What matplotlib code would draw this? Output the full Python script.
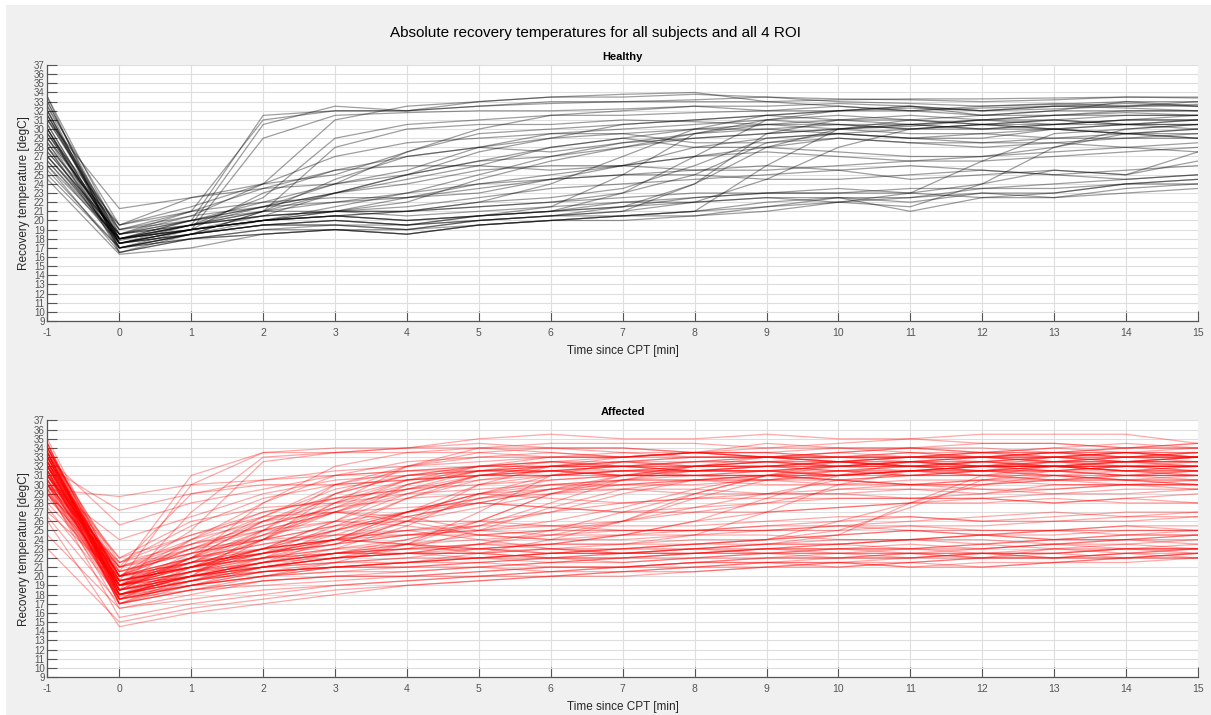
import matplotlib.pyplot as plt
from matplotlib.patches import Rectangle

# time points [min] (-1 = baseline before CPT)
t = [-1, 0, 1, 2, 3, 4, 5, 6, 7, 8, 9, 10, 11, 12, 13, 14, 15]

# healthy subjects, one row per subject/ROI
healthy = [
    [33, 18, 20, 31.5, 32, 32, 32.5, 33, 33, 33, 33, 33.2, 33.3, 33.3, 33.4, 33.5, 33.5],
    [32, 17.5, 19.5, 30.5, 32.5, 32, 32.5, 32.8, 33, 33.2, 33.5, 33.3, 33.2, 33, 33.2, 33.5, 33.4],
    [31, 19, 21, 31, 32, 32, 33, 33.5, 33.5, 33.8, 33.5, 33, 32.8, 32.5, 32.7, 33, 33],
    [30, 17, 19, 29, 31.5, 31.8, 32, 32, 32.2, 32.5, 32, 32.5, 32, 32.3, 32.5, 32.3, 32],
    [29, 18.5, 20.5, 24, 31, 32.5, 33, 33.5, 33.8, 34, 33, 32.5, 32, 32.5, 32.8, 32.5, 32.7],
    [28, 19.5, 22.5, 24, 25, 27.5, 30, 31.5, 32, 32.5, 32.5, 32.8, 32.5, 32, 32.5, 32.8, 32.5],
    [27, 17.8, 19.5, 22.5, 29, 30.5, 31, 31.5, 31.5, 31.8, 32, 32, 32.3, 32, 32.2, 32.5, 32.5],
    [33.5, 16.5, 18.5, 21, 28, 30, 30.5, 30.5, 31, 30.8, 30.5, 30, 30.3, 31, 31.5, 31.8, 31.5],
    [31.5, 18, 19.5, 21.5, 24, 27.5, 29.5, 30, 30.5, 31, 31.5, 31, 30.5, 30, 30.5, 31, 31],
    [30.5, 17.5, 19, 20.5, 23, 25, 27.5, 29, 30.5, 31, 31.5, 32, 32.5, 31.5, 32, 33, 32.5],
    [29.5, 18, 19.5, 21, 24.5, 27, 28, 27.5, 28.5, 29.5, 30, 30.5, 30, 30.5, 31, 30.5, 30.5],
    [26.5, 17.5, 19, 23, 25.5, 27, 28, 29, 29.5, 30, 30, 29.5, 29, 29.5, 30, 29.5, 29],
    [28.5, 18, 20, 22, 24, 25.5, 28, 29.5, 29.5, 28.5, 28.5, 29, 28.5, 28.5, 29, 29, 29.5],
    [32.5, 17, 18.5, 20, 21.5, 23, 25, 27, 28.5, 29, 29.5, 30, 30.5, 31, 31.5, 31.5, 31.5],
    [27.5, 18.5, 21, 23.5, 25.5, 26, 26, 25.5, 26, 27, 28, 29, 28.5, 28, 28.5, 28, 27.5],
    [25.5, 17, 18.5, 21, 23, 24, 25.5, 26, 26, 25.5, 25.5, 26, 26.5, 27, 27.5, 28, 28.5],
    [31, 18.5, 20, 21.5, 23, 24.5, 26, 28, 29, 28, 28, 27.5, 27, 27, 28, 29.5, 30],
    [30, 17.5, 19, 20, 21, 22, 24.5, 26.5, 28, 29.5, 30.5, 31, 31, 30.5, 31, 31.5, 31.5],
    [29, 19, 20.5, 21.5, 22, 22.5, 23, 24.5, 26, 27, 27.5, 27, 26.5, 26.5, 27, 27.5, 28],
    [33, 17.5, 19, 20, 20.5, 21, 22, 24, 27, 30, 31.5, 32, 32, 31.5, 32, 32, 32],
    [32, 18, 19, 20, 20.5, 20, 20.5, 21.5, 25, 29.5, 31, 31.5, 31, 30.5, 30.5, 31, 31],
    [28, 17, 18.5, 19.5, 20, 19.5, 20, 20.5, 21, 24, 29.5, 31, 31.5, 31, 30.5, 31, 31.5],
    [30.5, 17.5, 18.5, 19.5, 19.5, 19.5, 20, 20.5, 20.5, 21, 26, 30, 31, 31.5, 31.5, 32, 32],
    [27, 18, 19, 20, 20.5, 20, 20.5, 21, 21.5, 22, 24.5, 28, 30, 30.5, 30, 29.5, 30],
    [26, 16.5, 18, 19, 19, 19, 19.5, 20, 20.5, 20.5, 21, 22, 23, 26.5, 29.5, 30, 30.5],
    [31.5, 19, 20, 21, 21, 20.5, 21, 21.5, 22, 22, 22.5, 22, 21.5, 24, 28, 30, 30.5],
    [29.5, 18, 19, 20, 20.5, 20, 20.5, 21, 22, 22.5, 23, 23, 23.5, 23.5, 24, 24.5, 25],
    [28, 17.5, 18.5, 19.5, 19.5, 19, 20, 20.5, 21, 22, 22.5, 22.5, 22.5, 23.5, 23.5, 24, 24.5],
    [25, 17, 18, 18.5, 19, 18.5, 19.5, 20, 20.5, 21, 22, 22.5, 22, 23, 23, 24, 24.5],
    [30, 16.5, 18, 18.5, 19, 18.5, 19.5, 20, 20, 20.5, 21.5, 22.5, 21, 22.5, 23, 24, 24],
    [27.5, 18.5, 19.5, 20.5, 21, 21.5, 22.5, 23.5, 24, 24.5, 25, 25.5, 24.5, 25, 25.5, 25, 26.5],
    [32.5, 19.5, 21, 22, 22.5, 22.5, 23.5, 24.5, 25, 25, 24.5, 24.5, 25, 25.5, 25, 24.5, 25],
    [26.5, 18, 19.5, 20.5, 21, 21, 22, 22.5, 23.5, 26, 29, 29.5, 29, 29, 30, 29.5, 29],
    [31, 21.3, 22.5, 23.5, 24, 25, 26.5, 27, 28, 29, 29.5, 30, 30.5, 31, 31, 30.5, 31],
    [29, 17, 18, 19, 19.5, 19, 20, 20.5, 21.5, 24, 28, 30, 29.5, 29.5, 29, 29.5, 29.5],
    [33.5, 18.5, 19.5, 20.5, 21, 21, 21.5, 22, 23, 25, 28.5, 29.5, 29, 28.5, 28.5, 29, 29],
    [24.5, 16.3, 17, 18.5, 19, 18.5, 19.5, 20, 20.5, 21, 21.5, 22, 22.5, 23, 22.5, 23, 23.5],
    [28.5, 17.5, 18.5, 19.5, 20, 19.5, 20.5, 21, 21.5, 22.5, 23, 23, 23, 22.5, 22.5, 23.5, 24],
    [30, 18, 19.5, 21, 22, 23, 24, 25, 26, 28, 29, 29.5, 30, 30.5, 30, 30.5, 30.5],
    [32, 17, 18.5, 19.5, 20, 19.5, 20.5, 21, 23, 27, 31, 32, 32.5, 32, 32.5, 32.5, 33],
    [27, 18.5, 20, 21.5, 23, 25, 26.5, 28, 29, 30, 30.5, 30.5, 30, 30, 30.5, 30.5, 30],
    [29.5, 19.5, 21.5, 24, 27, 28.5, 29, 29.5, 30, 30.5, 31, 30.5, 30.5, 30, 30, 30.5, 31],
    [26, 18, 19, 20, 20.5, 21, 21.5, 22, 22.5, 23, 23, 23.5, 23, 24, 25.5, 25, 27.5],
    [31.5, 17.5, 19, 20, 21, 22.5, 24, 24.5, 25, 25.5, 26, 25.5, 26, 25.5, 25, 25.5, 26],
]

# affected subjects
affected = [
    [33.5, 19.5, 30, 33.5, 34, 34, 34.5, 34, 34, 33.5, 34, 34, 33.5, 33.5, 34, 33.5, 33],
    [32.5, 18.5, 27, 33, 33.5, 34, 34, 33.5, 33, 33.5, 33, 33.5, 34, 34, 33.5, 34, 34.5],
    [34, 20, 25, 32.5, 33.5, 34, 35, 35.5, 35, 35, 35.5, 35, 35, 35.5, 35.5, 35.5, 34.5],
    [31, 21, 29, 30.5, 31, 31.5, 32, 32.5, 32, 32.5, 33, 32.5, 32, 32.5, 33, 33, 32.5],
    [29.5, 28.7, 30, 30.5, 31.5, 32, 32.5, 33, 33.5, 33, 33, 33.5, 33, 33, 33.5, 33.5, 33],
    [32, 27.2, 29, 30, 30, 30.5, 31, 31.5, 31.5, 32, 32.5, 32, 32.5, 33, 33, 32.5, 32],
    [33, 25.6, 28, 29.5, 31, 31.5, 32, 32, 32.5, 32, 32, 32.5, 32, 31.5, 32, 32.5, 32],
    [30, 24, 26.5, 29, 30.5, 31, 31.5, 32.5, 33, 33.5, 33, 32.5, 32.5, 33, 33.5, 33, 33.5],
    [34.5, 19, 22, 28, 32, 33.5, 34, 34, 33.5, 33.5, 33, 33.5, 34, 33.5, 33.5, 34, 34],
    [33.5, 18, 20, 25, 30, 32, 33, 33.5, 33, 33.5, 33.5, 33, 33, 33, 33.5, 33, 33],
    [32, 19.5, 21.5, 24, 29, 31, 32, 32, 31.5, 32, 32.5, 32.5, 32, 32, 32.5, 32.5, 33],
    [31.5, 17.5, 20.5, 23, 26, 30, 32, 32.5, 32.5, 32.5, 33, 33, 32.5, 32.5, 32, 32.5, 32.5],
    [33, 18.5, 22, 26, 29, 31, 31.5, 31.5, 32, 31.5, 31.5, 32, 32.5, 32, 32, 31.5, 31.5],
    [30.5, 20.5, 23, 25, 27, 29, 31, 32, 32.5, 33, 33, 32.5, 33, 33.5, 33, 33, 33.5],
    [32.5, 19, 21, 23, 25, 27, 29, 30.5, 31, 31, 31.5, 31.5, 31, 31.5, 32, 32, 31.5],
    [29, 21.5, 24.5, 27, 28.5, 29.5, 30.5, 31, 31.5, 31.5, 31.5, 31, 31.5, 32, 32, 31.5, 31],
    [31, 22, 26, 27.5, 28, 30, 31.5, 32, 32, 31.5, 32, 32.5, 32, 31.5, 32.5, 33, 33.5],
    [34, 18, 21, 24, 27.5, 30.5, 32, 33, 33, 33.5, 33, 33, 33.5, 33, 33, 33.5, 33.5],
    [33, 20, 23.5, 26.5, 30, 31.5, 31.5, 31.5, 31, 31.5, 32, 32, 31.5, 31.5, 31.5, 32, 32],
    [32, 17, 19.5, 22, 25, 28.5, 31, 31.5, 31, 31, 31, 31.5, 31.5, 31, 30.5, 31, 31.5],
    [30, 19.5, 21, 22.5, 23.5, 26, 30, 31, 31.5, 31.5, 32, 31.5, 31, 31.5, 32, 32, 31.5],
    [33.5, 18.5, 20, 21.5, 23, 25.5, 29, 31, 31.5, 31, 30.5, 31, 31.5, 31, 31, 30.5, 30.5],
    [32.5, 20, 21.5, 23, 25, 27, 28, 29.5, 31, 32, 32, 31.5, 32, 32.5, 32, 32, 32],
    [31.5, 18, 20, 21.5, 22.5, 24, 26, 29, 31, 32, 32.5, 32.5, 32, 32, 33, 33.5, 33],
    [34, 19, 20.5, 22, 23, 24, 25.5, 28, 30.5, 32, 33, 33, 33, 33.5, 33, 32.5, 33],
    [30.5, 17.5, 19.5, 21, 22, 23, 25, 27.5, 29.5, 30.5, 30.5, 31, 31.5, 32, 31.5, 31, 31],
    [33, 19, 21, 22.5, 24, 26, 27.5, 29, 30, 30.5, 31, 30.5, 30, 30.5, 31, 30.5, 30],
    [32, 20.5, 22.5, 24, 25.5, 27, 28.5, 29.5, 30, 30, 30.5, 30.5, 30, 30, 30.5, 30, 29.5],
    [29, 18, 20, 21, 22, 23.5, 26, 29, 30.5, 31, 31, 30.5, 30, 30, 30.5, 31, 31],
    [33.5, 18.5, 20, 21, 22, 22.5, 23.5, 25, 27, 29, 31, 32, 32.5, 32, 32, 32.5, 32.5],
    [31.5, 19.5, 21.5, 22.5, 23.5, 24.5, 25, 26, 27.5, 29.5, 31, 31.5, 31.5, 32, 32, 31.5, 32],
    [34.5, 17, 19, 20.5, 21, 21.5, 22.5, 24, 26, 29, 31, 32.5, 33, 33, 33.5, 33.5, 34],
    [32.5, 18, 19.5, 21, 21.5, 22, 23, 23.5, 24.5, 26, 28.5, 31, 32.5, 33, 32.5, 33, 33],
    [30, 19, 20.5, 21, 22, 22.5, 22.5, 23, 23.5, 24.5, 27, 30, 31.5, 32, 32.5, 32, 32.5],
    [33, 20, 22, 23, 24, 25, 26, 27, 28, 28.5, 28.5, 28.5, 28.5, 29, 30, 30, 30],
    [31, 21, 23.5, 25, 26, 27, 28.5, 29, 29.5, 29.5, 29, 29, 29.5, 29.5, 29, 29, 29.5],
    [32, 18.5, 20.5, 22, 23.5, 26, 28.5, 30, 30.5, 30.5, 30, 30, 30.5, 30.5, 30, 30, 30.5],
    [35, 19.5, 22, 24.5, 28, 32, 34, 34.5, 34.5, 34.5, 34, 34.5, 35, 34.5, 34.5, 34, 34],
    [33.5, 19, 21.5, 25, 29, 32, 33.5, 34, 34, 33.5, 34.5, 34, 34, 34.5, 34.5, 34, 34.5],
    [32.5, 20, 24, 28, 31, 32.5, 33, 33, 33, 33, 33, 33, 33.5, 33, 33, 33.5, 33],
    [31, 19, 22.5, 26.5, 29.5, 31, 32, 32.5, 32, 32, 32, 32.5, 32.5, 32, 32.5, 32.5, 32.5],
    [30, 21.5, 25.5, 28.5, 30, 30.5, 31, 31, 31.5, 31.5, 31.5, 31, 31, 31.5, 31.5, 31, 30.5],
    [32, 18.5, 22, 26, 28.5, 30.5, 31, 31, 31, 31.5, 31.5, 31, 31.5, 32, 32, 31.5, 31.5],
    [33.5, 17.5, 21, 24, 27, 30, 31.5, 32, 32, 32.5, 32.5, 32, 32, 32.5, 33, 32.5, 32.5],
    [29.5, 19, 24, 27, 28.5, 29.5, 30, 30.5, 31, 31, 31, 30.5, 31, 31, 30.5, 30.5, 31],
    [34, 20.5, 31, 33.5, 33.5, 33.5, 33.5, 33, 33, 33.5, 33.5, 33, 33, 33.5, 33.5, 33, 33],
    [31.5, 17, 20, 24, 28, 30.5, 31.5, 31.5, 31, 31, 31.5, 32, 32, 31.5, 31.5, 32, 32],
    [33, 18.5, 21.5, 24.5, 27, 29.5, 31, 31.5, 32, 32, 32, 32, 32.5, 32.5, 32, 32, 32],
    [30, 16.5, 18, 19.5, 20, 20.5, 21, 21.5, 22, 22, 22.5, 22.5, 22, 22.5, 22.5, 22, 22.5],
    [32.5, 17, 18.5, 19.5, 20, 20, 20.5, 21, 21, 21.5, 21.5, 21, 21.5, 22, 22, 22, 22],
    [33, 18, 19, 20, 20.5, 20.5, 21, 21.5, 21.5, 22, 22, 22.5, 22.5, 22, 23, 23, 23],
    [31.5, 17.5, 18.5, 19, 19.5, 20, 20, 20.5, 20.5, 21, 21.5, 21.5, 21, 21.5, 21.5, 22, 22.5],
    [29, 19, 20, 20.5, 21, 21.5, 22, 22.5, 22.5, 23, 22.5, 22.5, 23, 23.5, 23, 22.5, 23],
    [34, 20, 21, 22, 22.5, 23, 23, 23.5, 23.5, 23.5, 23.5, 24, 24, 24.5, 24, 24.5, 24.5],
    [32, 19.5, 21, 22, 23, 23.5, 23, 22.5, 23, 23, 23.5, 23.5, 23, 23.5, 24, 24, 24.5],
    [30.5, 18.5, 20, 21.5, 22.5, 23, 23.5, 23, 22.5, 22.5, 22.5, 23, 23.5, 23, 23.5, 24, 23.5],
    [27.5, 17.8, 19, 20, 21, 21, 21, 20.5, 21, 21.5, 22, 22, 22.5, 22, 22, 22.5, 22],
    [23, 15, 16.5, 17.5, 18.5, 19, 19.5, 20, 20.5, 20.5, 21, 21, 21.5, 21, 21.5, 21.5, 22],
    [26, 14.5, 16, 17, 18, 19, 19.5, 20, 20, 20.5, 21, 21.5, 21.5, 22, 22, 22.5, 23],
    [29.5, 15.5, 17, 18, 19, 19.5, 20, 20.5, 21, 21.5, 21.5, 22, 22, 22.5, 22.5, 23, 23],
    [24.5, 16.5, 17.5, 18.5, 19, 19.5, 20, 20, 20.5, 21, 21, 21.5, 22, 22, 22.5, 23, 23.5],
    [33.5, 18, 19.5, 20.5, 21.5, 22, 22, 22.5, 23, 23.5, 24, 24.5, 25, 25, 25, 25, 25],
    [31, 19, 20.5, 21.5, 22.5, 23.5, 24, 24.5, 25, 25, 25.5, 25.5, 26, 26.5, 27, 26.5, 27],
    [32.5, 20, 21.5, 22.5, 24, 25, 25.5, 25.5, 25, 25, 25.5, 26, 26.5, 26, 26, 26.5, 26.5],
    [30, 21, 22.5, 24, 25.5, 26, 26, 25.5, 25.5, 25.5, 26, 26.5, 26.5, 26, 26.5, 27, 27],
    [28, 19.5, 21, 23, 24, 23.5, 23, 22.5, 22.5, 22.5, 23, 23.5, 24, 24.5, 24, 24, 24.5],
    [33, 17.5, 19, 21, 22.5, 23, 23.5, 23.5, 23.5, 24, 24, 24.5, 25, 24.5, 24.5, 25, 25],
    [31.5, 18.5, 20, 21, 22, 22.5, 22, 21.5, 22, 22.5, 23, 23, 23, 22.5, 22.5, 23, 22.5],
    [34.5, 19, 20.5, 21.5, 22, 22.5, 22.5, 22, 22.5, 23, 23, 23.5, 24, 24, 23.5, 23.5, 24],
    [27, 20, 22, 23.5, 24.5, 25, 24, 23, 22.5, 23, 23.5, 23.5, 24, 23.5, 24, 24.5, 25],
    [32, 19, 21, 23, 24, 23.5, 22.5, 22, 22, 22.5, 23, 23, 22.5, 22.5, 23, 23.5, 23],
    [30.5, 18, 20.5, 22.5, 24, 26.5, 28, 27.5, 27, 27, 27, 27.5, 28, 28, 28.5, 28, 28],
    [29, 21, 24, 26, 27, 27.5, 28, 27.5, 27, 27.5, 28, 28.5, 28.5, 28.5, 28, 28.5, 29],
    [31, 20, 23, 25.5, 27.5, 28.5, 29, 28.5, 28, 28.5, 29, 29, 28.5, 28.5, 29, 29.5, 29.5],
    [33, 19, 22, 25, 27, 26, 24.5, 25, 26, 27.5, 29, 30.5, 31, 31, 31.5, 31, 31],
    [32.5, 18.5, 20, 21.5, 22.5, 22.5, 23, 23.5, 24.5, 26, 27, 27.5, 28, 28.5, 28, 28.5, 28],
    [30, 17.5, 19, 20, 21, 21.5, 22, 22.5, 23, 23.5, 24, 25, 27.5, 30.5, 31.5, 31.5, 32],
    [33.5, 18, 19.5, 20.5, 21, 21.5, 22, 22.5, 22.5, 23, 23.5, 24.5, 28, 31, 32, 31.5, 31],
    [31, 19.5, 21, 22, 22.5, 22.5, 22.5, 23, 23, 23.5, 24, 26, 28, 30, 31, 30.5, 30.5],
    [28.5, 20.5, 22.5, 24.5, 26, 25.5, 24.5, 24, 24.5, 25, 25, 25, 25.5, 25.5, 26, 26, 26.5],
    [32, 22, 24.5, 26.5, 27, 26.5, 25, 24.5, 24.5, 24.5, 25, 25.5, 25.5, 25, 25, 25.5, 25.5],
    [34, 21, 23, 24, 24.5, 24.5, 24.5, 24, 24, 24.5, 24.5, 24, 24, 24.5, 25, 24.5, 24.5],
    [30, 19, 21.5, 23, 24, 24.5, 25, 25.5, 26, 27, 28, 29.5, 30, 29.5, 29.5, 30, 30],
    [32, 18, 20, 21.5, 22.5, 23.5, 24.5, 25, 25, 25, 25, 25.5, 25, 24.5, 25, 25.5, 25],
    [26.5, 17, 18.5, 19.5, 20, 20, 20.5, 21, 21, 21, 21.5, 21.5, 21, 21, 21.5, 22, 22],
    [33, 19.5, 21, 22.5, 24.5, 27, 29, 29.5, 29.5, 29, 29, 29.5, 29.5, 29, 29.5, 30, 30],
    [31.5, 20, 23, 26, 28, 29, 29.5, 30, 30.5, 30.5, 31, 31, 31.5, 31.5, 31, 31, 31.5],
    [34.5, 18, 20, 22, 24, 27, 30, 32, 33, 33.5, 33.5, 34, 34, 33.5, 34, 34.5, 34],
    [32.5, 17, 18.5, 20, 21.5, 23.5, 27, 31, 32.5, 33, 33, 32.5, 33, 33, 32.5, 33, 33],
    [30.5, 18.5, 19.5, 21, 22, 22.5, 23.5, 24.5, 26, 28.5, 30.5, 31.5, 32, 32, 31.5, 32, 32],
    [33, 20, 22, 23.5, 25, 26.5, 28, 29.5, 30.5, 31.5, 32, 32.5, 33, 32.5, 33, 33.5, 33.5],
    [29, 17.5, 19, 20, 20.5, 21, 21.5, 22, 22, 22.5, 23, 22.5, 22.5, 23, 23.5, 23, 23],
    [32, 19, 20, 21, 21.5, 21.5, 22, 22, 21.5, 22, 22.5, 22, 22, 22.5, 22, 22.5, 22.5],
    [34, 17.5, 19, 20.5, 21, 21.5, 21.5, 22, 22.5, 22.5, 22.5, 23, 23, 23, 23.5, 24, 24],
    [31, 18, 19.5, 20.5, 21, 21, 21.5, 21, 21, 21.5, 22, 22, 22.5, 22.5, 22, 22, 22.5],
    [33.5, 21.5, 23.5, 25.5, 27.5, 29.5, 31.5, 32, 32, 32.5, 32.5, 32, 32, 32.5, 32.5, 32, 32],
    [32, 19.5, 21, 23, 26, 29, 31, 32, 32.5, 32, 32.5, 33, 33, 33, 32.5, 32.5, 33],
    [29.5, 18, 19.5, 21.5, 24, 27, 29, 30, 30, 30.5, 30.5, 30, 30, 30.5, 30.5, 30.5, 30],
    [33.5, 18.5, 20.5, 22.5, 25.5, 28.5, 30.5, 31.5, 32, 31.5, 31.5, 32, 32.5, 32, 32, 32.5, 33],
    [31, 20, 21.5, 22.5, 23.5, 24.5, 25.5, 27, 29, 30.5, 31, 31, 31.5, 31.5, 31, 31.5, 31.5],
]

plt.rcParams['font.family'] = ['Liberation Sans', 'DejaVu Sans']
plt.rcParams['axes.unicode_minus'] = False

fig = plt.figure(figsize=(12.11, 7.15), dpi=100, facecolor='white')
# MATLAB style grey figure area with thin white border top/left
fig.patches.append(Rectangle((6 / 1211, 0), 1, 1 - 5 / 715, transform=fig.transFigure,
                             facecolor='#f0f0f0', edgecolor='none', zorder=-10))

fig.text(0.492, 0.954, 'Absolute recovery temperatures for all subjects and all 4 ROI',
         ha='center', va='center', fontsize=11, color='black')

ax1 = fig.add_axes([0.0392, 0.551, 0.950, 0.358])
ax2 = fig.add_axes([0.0392, 0.0531, 0.950, 0.3588])

for ax, data, col, alpha, title in [(ax1, healthy, 'black', 0.38, 'Healthy'),
                                    (ax2, affected, 'red', 0.34, 'Affected')]:
    for row in data:
        ax.plot(t, row, color=col, alpha=alpha, lw=0.9)
    ax.set_xlim(-1, 15)
    ax.set_ylim(9, 37)
    ax.set_xticks(range(-1, 16))
    ax.set_yticks(range(9, 38))
    ax.set_axisbelow(True)
    ax.grid(True, color='#dedede', lw=0.8)
    for s in ['top', 'right']:
        ax.spines[s].set_visible(False)
    for s in ['left', 'bottom']:
        ax.spines[s].set_color('#555555')
        ax.spines[s].set_linewidth(0.9)
    ax.tick_params(direction='in', length=7, width=0.8, color='#555555',
                   labelcolor='#555555', labelsize=7)
    ax.tick_params(axis='x', pad=5, labelsize=7.5)
    ax.tick_params(axis='y', pad=2)
    ax.set_title(title, fontsize=8, fontweight='bold', pad=4)
    ax.set_xlabel('Time since CPT [min]', fontsize=8.5, color='#262626', labelpad=5)
    ax.set_ylabel('Recovery temperature [degC]', fontsize=8.5, color='#262626', labelpad=3)

fig.savefig('out.png', dpi=100, facecolor=fig.get_facecolor())
